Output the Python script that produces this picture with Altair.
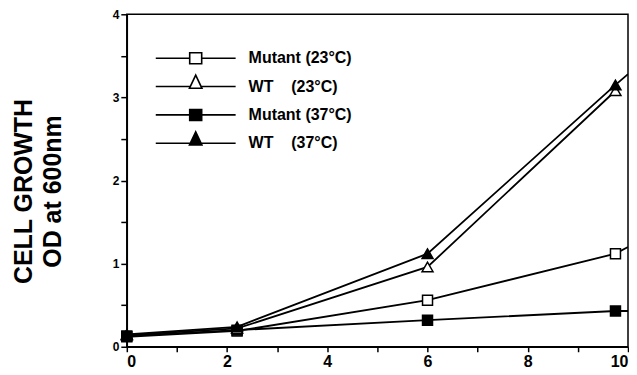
import altair as alt
import pandas as pd

# measured points
times = [0, 2.2, 6, 9.75]
mutant23 = [0.12, 0.19, 0.56, 1.12]
wt23 = [0.14, 0.22, 0.96, 3.08]
mutant37 = [0.13, 0.20, 0.32, 0.43]
wt37 = [0.15, 0.24, 1.12, 3.15]

# line continuation reaching the right frame
tail_x = 10
tail_mutant23 = 1.20
tail_mutant37 = 0.43
tail_wt37 = 3.28

NB = "\u00a0"
series_names = ["Mutant (23°C)", "WT" + NB * 4 + "(23°C)", "Mutant (37°C)", "WT" + NB * 4 + "(37°C)"]
strain = ["Mutant", "WT", "Mutant", "WT"]
temp = ["23", "23", "37", "37"]

pts = []
for name, st, tp, vals in zip(series_names, strain, temp, [mutant23, wt23, mutant37, wt37]):
    for t, v in zip(times, vals):
        pts.append({"series": name, "strain": st, "temp": tp, "time": t, "od": v})
points_df = pd.DataFrame(pts)

line_rows = list(pts)
for name, v in zip([series_names[0], series_names[2], series_names[3]],
                   [tail_mutant23, tail_mutant37, tail_wt37]):
    line_rows.append({"series": name, "strain": "", "temp": "", "time": tail_x, "od": v})
lines_df = pd.DataFrame(line_rows)

FONT = "Liberation Sans"

x_enc = alt.X("time:Q", scale=alt.Scale(domain=[0, 10], nice=False),
              axis=alt.Axis(values=list(range(0, 11)), title=None,
                            labelExpr="datum.value % 2 == 0 ? datum.label : ''",
                            labelFontSize=16, labelFontWeight="bold", tickSize=5,
                            labelPadding=2))
y_enc = alt.Y("od:Q", scale=alt.Scale(domain=[0, 4], nice=False),
              axis=alt.Axis(values=[0, 0.5, 1, 1.5, 2, 2.5, 3, 3.5, 4],
                            labelExpr="datum.value % 1 == 0 ? format(datum.value, 'd') : ''",
                            title=["CELL GROWTH", "OD at 600nm"],
                            titleFontSize=25, titleFontWeight="bold",
                            titleLineHeight=29, titlePadding=47, titleY=177,
                            labelFontSize=12, labelFontWeight="bold",
                            tickSize=6, labelPadding=2))

lines = alt.Chart(lines_df).mark_line(color="black", strokeWidth=1.8, clip=True).encode(
    x=x_enc, y=y_enc, detail="series:N", order="time:Q"
)

fill_cond = alt.condition("datum.temp == '23'", alt.value("white"), alt.value("black"))

squares = alt.Chart(points_df).transform_filter("datum.strain == 'Mutant'").mark_point(
    shape="square", filled=True, stroke="black", strokeWidth=1.5, size=100, opacity=1
).encode(x="time:Q", y="od:Q", fill=fill_cond)

triangles = alt.Chart(points_df).transform_filter("datum.strain == 'WT'").mark_point(
    shape="triangle-up", filled=True, stroke="black", strokeWidth=1.5, size=120, opacity=1
).encode(x="time:Q", y="od:Q", fill=fill_cond)

sq = "M-8,0H-1.2M1.2,0H8M-1.2,-1.1H1.2V1.1H-1.2Z"
tri = "M-8,0H-1.05M1.05,0H8M0,-2.3L1.25,0.35L-1.25,0.35Z"

leg = alt.Legend(title=None, orient="none", legendX=61, legendY=36,
                 symbolSize=100, symbolStrokeWidth=1.6,
                 labelFont=FONT, labelFontSize=16, labelFontWeight="bold",
                 labelColor="black", labelOffset=45, labelLimit=300,
                 rowPadding=4.4, padding=0, gridAlign="all")

legend_layer = alt.Chart(points_df).transform_filter("false").mark_point(
    filled=True, strokeWidth=1.6, opacity=1
).encode(
    x="time:Q", y="od:Q",
    shape=alt.Shape("series:N", scale=alt.Scale(domain=series_names, range=[sq, tri, sq, tri]), legend=leg),
    fill=alt.Fill("series:N", scale=alt.Scale(domain=series_names,
                  range=["white", "white", "black", "black"]), legend=leg),
    stroke=alt.Stroke("series:N", scale=alt.Scale(domain=series_names,
                      range=["black", "black", "black", "black"]), legend=leg),
)

chart = alt.layer(lines, squares, triangles, legend_layer).properties(
    width=502, height=333, padding={"left": 3, "top": 0, "right": 0, "bottom": 0}
).configure_view(
    stroke="black", strokeWidth=1.5
).configure_axis(
    domainColor="black", domainWidth=1.5, tickColor="black", tickWidth=1.5,
    labelColor="black", titleColor="black", labelFont=FONT, titleFont=FONT, grid=False
)

chart.save("out.html", embed_options={"renderer": "svg", "actions": False})
